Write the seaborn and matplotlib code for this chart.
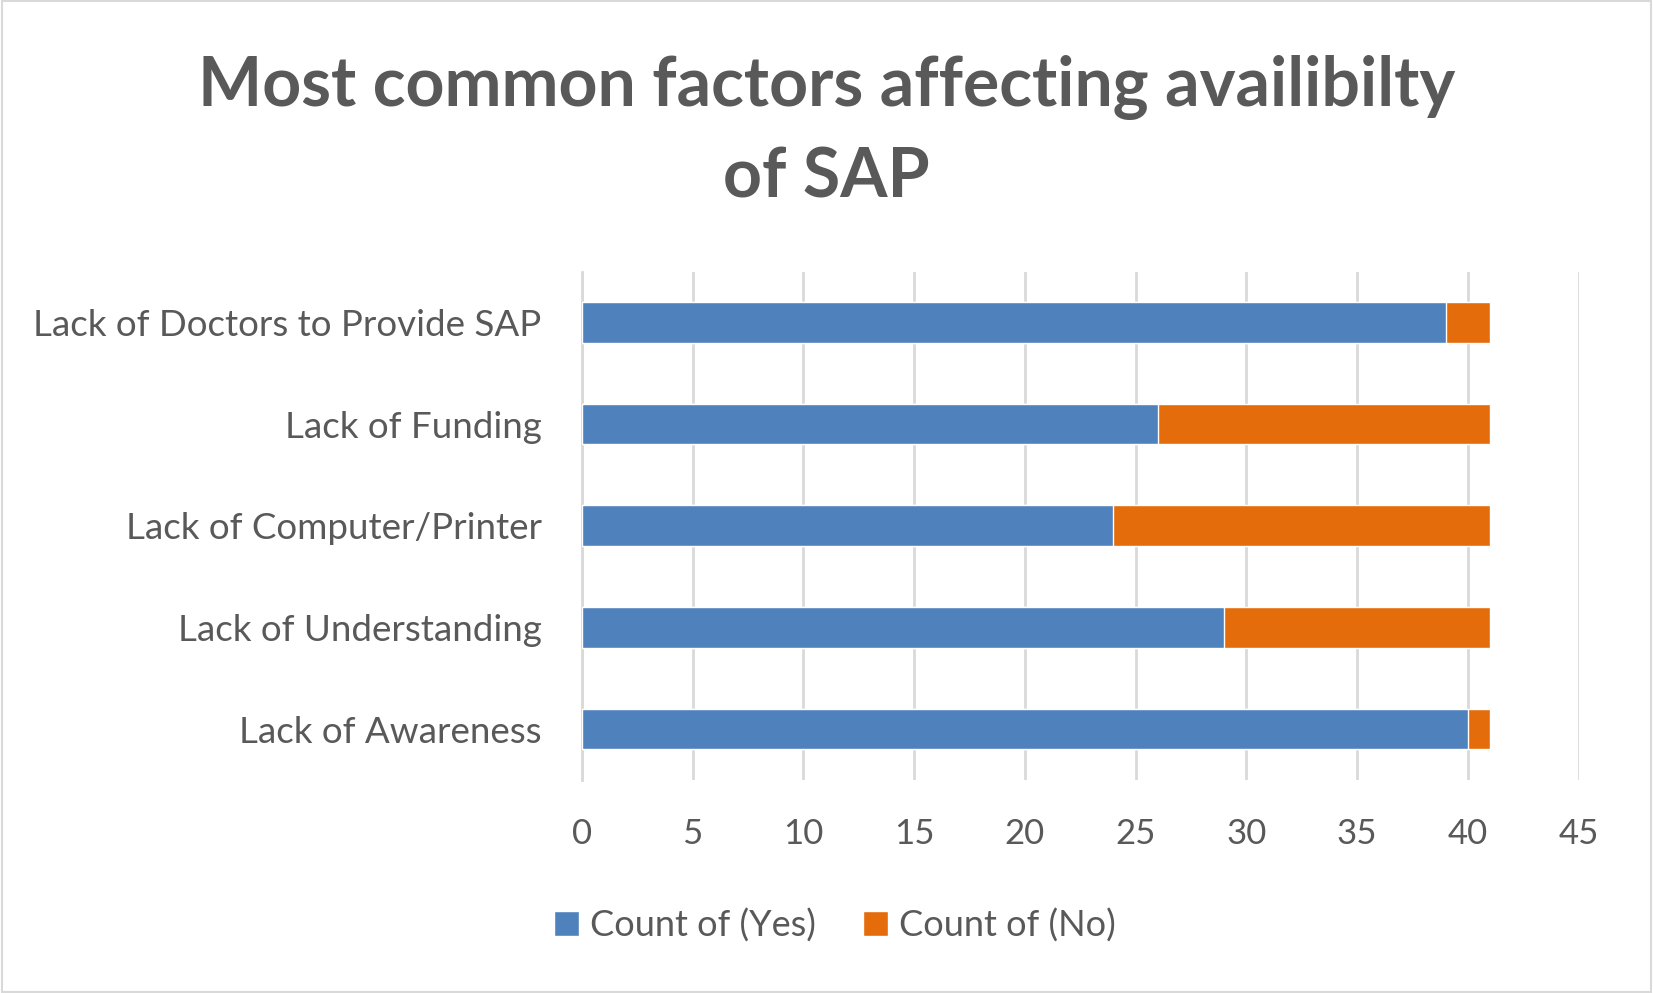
import matplotlib
matplotlib.use("Agg")
import matplotlib.pyplot as plt
import seaborn as sns
import pandas as pd
from matplotlib.patches import Patch, Rectangle

categories = ["Lack of Doctors to Provide SAP", "Lack of Funding", "Lack of Computer/Printer",
              "Lack of Understanding", "Lack of Awareness"]
yes_counts = [39, 26, 24, 29, 40]
no_counts = [2, 15, 17, 12, 1]
xticks = [0, 5, 10, 15, 20, 25, 30, 35, 40, 45]

BLUE = "#4F81BD"
ORANGE = "#E46C0A"
TEXT = "#595959"
GRID = "#D9D9D9"

sns.set_theme(style="white")
plt.rcParams['font.family'] = ['Lato', 'DejaVu Sans']

df = pd.DataFrame({"cat": categories, "yes": yes_counts, "no": no_counts})
df["total"] = df["yes"] + df["no"]

fig = plt.figure(figsize=(16.53, 9.93), dpi=100)
ax = fig.add_axes([0.352, 0.2145, 0.603, 0.512])

sns.barplot(data=df, x="total", y="cat", color=ORANGE, width=0.4, saturation=1, ax=ax, zorder=3)
sns.barplot(data=df, x="yes", y="cat", color=BLUE, width=0.4, saturation=1, ax=ax, zorder=4)

ax.set_xlim(0, 45)
ax.set_ylim(4.5, -0.5)
ax.set_xticks(xticks)
ax.set_xticklabels([str(t) for t in xticks])
ax.xaxis.grid(True, color=GRID, linewidth=2, zorder=0)
ax.set_axisbelow(True)
for s in ["top", "right", "bottom"]:
    ax.spines[s].set_visible(False)
ax.spines["left"].set_color(GRID)
ax.spines["left"].set_linewidth(2)
ax.tick_params(axis="x", length=0, pad=27, labelsize=25, labelcolor=TEXT)
ax.tick_params(axis="y", length=0, pad=29, labelsize=26.5, labelcolor=TEXT)
ax.set_xlabel("")
ax.set_ylabel("")

fig.text(0.5, 0.912, "Most common factors affecting availibilty", ha="center", va="center",
         fontsize=49, fontweight="bold", color=TEXT)
fig.text(0.5, 0.8205, "of SAP", ha="center", va="center",
         fontsize=49, fontweight="bold", color=TEXT)

handles = [Patch(facecolor=BLUE, label="Count of (Yes)"), Patch(facecolor=ORANGE, label="Count of (No)")]
leg = fig.legend(handles=handles, loc="center", bbox_to_anchor=(0.505, 0.068), ncol=2, frameon=False,
                 fontsize=26, handlelength=0.7, handleheight=0.7, handletextpad=0.3, columnspacing=1.3)
for t in leg.get_texts():
    t.set_color(TEXT)

fig.patches.append(Rectangle((0.001, 0.001), 0.998, 0.998, transform=fig.transFigure,
                             fill=False, edgecolor="#D9D9D9", linewidth=1.5))

fig.savefig("out.png", dpi=100, facecolor="white")
